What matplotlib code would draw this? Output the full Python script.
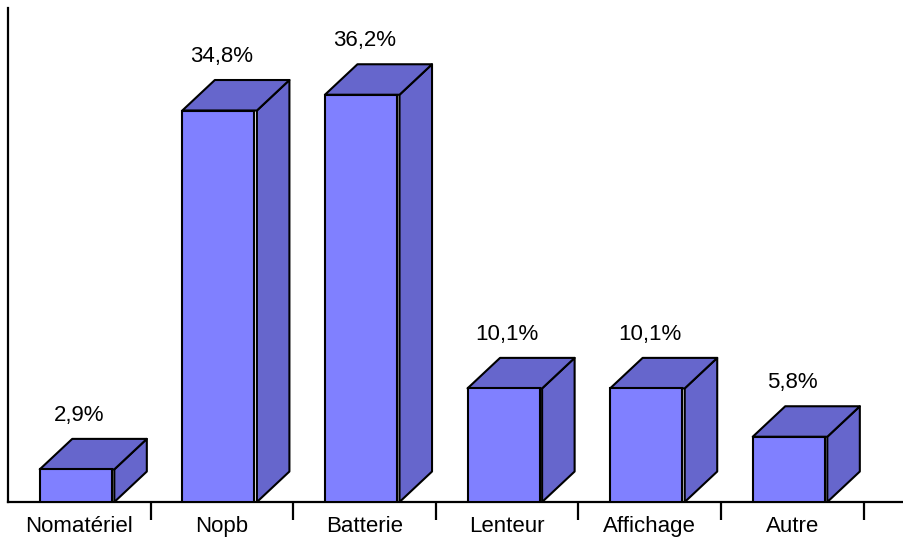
import numpy as np
import matplotlib
matplotlib.use("Agg")
import matplotlib.pyplot as plt
from matplotlib.patches import Polygon

categories = ["Nomatériel", "Nopb", "Batterie", "Lenteur", "Affichage", "Autre"]
values = [2.9, 34.8, 36.2, 10.1, 10.1, 5.8]
labels = ["2,9%", "34,8%", "36,2%", "10,1%", "10,1%", "5,8%"]

front_col = "#8080ff"
dark_col = "#6666cc"

plt.rcParams['font.family'] = ['Liberation Sans', 'DejaVu Sans']

fig = plt.figure(figsize=(9.04, 5.39), dpi=100)
ax = fig.add_axes([8 / 904, 37 / 539, 896 / 904, 494 / 539])

x = np.arange(len(categories))
width = 0.505
shift = -0.025
dx, dy = 0.228, 2.71   # depth of the 3d boxes
gap = 0.018

for xi, v in zip(x, values):
    xl = xi + shift - width / 2
    xr = xi + shift + width / 2
    side = Polygon([(xr + gap, 0), (xr + gap + dx, dy), (xr + gap + dx, v + dy), (xr + gap, v)],
                   closed=True, facecolor=dark_col, edgecolor="black", lw=1.5, joinstyle="round")
    top = Polygon([(xl, v), (xr + gap, v), (xr + gap + dx, v + dy), (xl + dx, v + dy)],
                  closed=True, facecolor=dark_col, edgecolor="black", lw=1.5, joinstyle="round")
    ax.add_patch(side)
    ax.add_patch(top)

ax.bar(x + shift, values, width, color=front_col, edgecolor="black", linewidth=1.5, zorder=3)

for xi, v, lab in zip(x, values, labels):
    ax.annotate(lab, (xi, v + dy), xytext=(0, 17), textcoords="offset points",
                ha="center", va="center", fontsize=16)

ax.set_xlim(-0.5, -0.5 + 896 / 142.6)
ax.set_ylim(0, 494 / 11.25)

for s in ["top", "right"]:
    ax.spines[s].set_visible(False)
ax.spines["left"].set_linewidth(1.6)
ax.spines["bottom"].set_linewidth(1.6)

ax.set_yticks([])
ax.set_xticks(x)
ax.set_xticklabels(categories, fontsize=16)
ax.tick_params(axis="x", which="major", length=0, pad=10)
ax.set_xticks(x + 0.5, minor=True)
ax.tick_params(axis="x", which="minor", length=13, width=1.6, direction="out")

fig.savefig("out.png", dpi=100)
